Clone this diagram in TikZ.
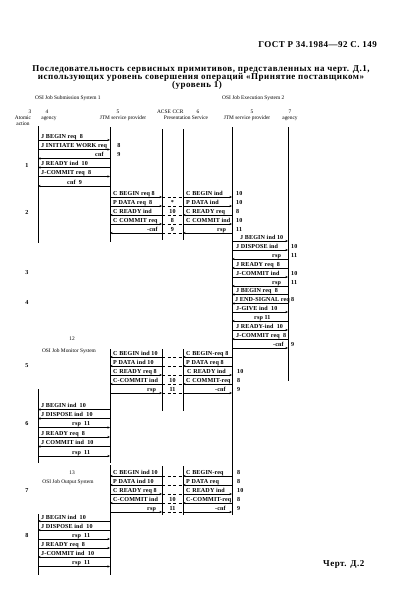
\documentclass[tikz,border=0pt]{standalone}
\usepackage{fontspec}
\setmainfont{Liberation Serif}
\usetikzlibrary{arrows.meta}
\begin{document}
\begin{tikzpicture}[x=1pt,y=-1pt,
    >={Stealth[length=2.6pt,width=2.2pt]},
    life/.style={line width=0.7pt},
    msg/.style={line width=0.65pt},
    fw/.style={->}, bw/.style={<-},
    ccrgap/.style={dash pattern=on 3pt off 2.5pt, line width=0.55pt},
    lbl/.style={font=\fontsize{6.1}{6.5}\selectfont\bfseries\addfontfeature{LetterSpace=2}, inner sep=0pt, anchor=base west},
    nr/.style={font=\fontsize{6.1}{6.5}\selectfont\bfseries, inner sep=0pt, anchor=base},
    hd/.style={font=\fontsize{5.4}{6}\selectfont, inner sep=0pt, anchor=base},
    ttl/.style={font=\fontsize{9}{10}\selectfont\bfseries\addfontfeature{LetterSpace=5.5}, inner sep=0pt, anchor=base}]

    \useasboundingbox[fill=white] (0,0) rectangle (404,610);

    % Page heading and title
    \node[ttl, anchor=base east] (gost) at (377,48) {ГОСТ Р 34.1984—92 С. 149};
    \node[ttl] (title1) at (201,71) {Последовательность сервисных примитивов, представленных на черт. Д.1,};
    \node[ttl] (title2) at (201,79) {использующих уровень совершения операций «Принятие поставщиком»};
    \node[ttl] (title3) at (197,87) {(уровень 1)};
    \node[ttl, anchor=base west] (fig) at (323,566) {Черт. Д.2};

    % Systems
    \node[hd, anchor=base west] (sysA) at (35,99) {OSI Job Submission System 1};
    \node[hd, anchor=base west] (sysB) at (222,99) {OSI Job Execution System 2};

    % Column heads
    \node[hd] (h3) at (30,113.5) {3};
    \node[hd] (h4) at (47,113.5) {4};
    \node[hd] (h5) at (118,113.5) {5};
    \node[hd] (hacse) at (164,113.5) {ACSE};
    \node[hd] (hccr) at (178,113.5) {CCR};
    \node[hd] (h6) at (198,113.5) {6};
    \node[hd] (h5b) at (252,113.5) {5};
    \node[hd] (h7) at (290,113.5) {7};
    \node[hd] (hatom) at (23,119) {Atomic};
    \node[hd] (hact) at (23,125) {action};
    \node[hd] (hag) at (49,119) {agency};
    \node[hd] (hjtm) at (123,119) {JTM service provider};
    \node[hd] (hpres) at (186,119) {Presentation Service};
    \node[hd] (hjtmb) at (247,119) {JTM service provider};
    \node[hd] (hagb) at (290,119) {agency};

    % Lifeline columns
    \coordinate (agS) at (38,0);
    \coordinate (jtmS) at (110,0);
    \coordinate (prA) at (162,0);
    \coordinate (prB) at (183,0);
    \coordinate (jtmE) at (232,0);
    \coordinate (agE) at (288,0);

    \foreach \c/\a/\b in {agS/126/243, jtmS/127/242, prA/129/240, prB/129/240,
        jtmE/127/515, agE/127/381,
        jtmS/349/463, prA/349/411, prB/349/411, agS/389/463,
        jtmS/465/575, prA/466/515, prB/466/515, agS/514/575}
        \draw[life] (\c |- 0,\a) -- (\c |- 0,\b);

    % Atomic actions
    \foreach \n/\y in {1/167,2/214,3/274,4/304,5/367,6/425,7/492,8/537}
        \node[nr] (act\n) at (27,\y) {\n};

    % Submission agency <-> JTM
    \foreach \y/\d/\x/\t [count=\i] in {
        140/fw/41/J BEGIN req\ \ 8,
        149.5/fw/41/J INITIATE WORK req,
        158.5/bw/95/cnf,
        167.5/bw/41/J READY ind\ \ 10,
        176.5/fw/41/J-COMMIT req\ \ 8,
        186/bw/67/cnf\ \ 9}
    {
        \draw[msg,\d] (agS |- 0,\y) -- (jtmS |- 0,\y);
        \node[lbl] (sub\i) at (\x,\y-2) {\t};
    }
    \node[nr] (subn2) at (119,147.5) {8};
    \node[nr] (subn3) at (119,156.5) {9};

    % JTM <-> presentation <-> JTM
    \foreach \y/\dl/\xl/\tl/\dr/\xr/\tr/\m/\n [count=\i] in {
        197/fw/113/C BEGIN req 8/fw/186/C BEGIN ind//10,
        206/fw/113/P DATA req\ \ 8/fw/186/P DATA ind/*/10,
        215/bw/113/C READY ind/bw/186/C READY req/10/8,
        224/fw/113/C COMMIT req/fw/186/C COMMIT ind/8/10,
        233/bw/147/-cnf/bw/217/rsp/9/11}
    {
        \draw[msg,\dl] (jtmS |- 0,\y) -- (prA |- 0,\y);
        \draw[ccrgap] (prA |- 0,\y) -- (prB |- 0,\y);
        \draw[msg,\dr] (prB |- 0,\y) -- (jtmE |- 0,\y);
        \node[lbl] (exl\i) at (\xl,\y-2) {\tl};
        \node[lbl] (exr\i) at (\xr,\y-2) {\tr};
        \node[nr] (exm\i) at (172.5,\y-2) {\m};
        \node[lbl] (exn\i) at (236,\y-2) {\n};
    }

    % Execution JTM <-> agency
    \foreach \y/\d/\x/\t/\n [count=\i] in {
        241/fw/240/J BEGIN ind 10/,
        250/fw/236/J DISPOSE ind/10,
        259/bw/272/rsp/11,
        268/bw/236/J READY req\ \ 8/,
        277/fw/236/J-COMMIT ind/10,
        286/bw/272/rsp/11,
        294.5/bw/236/J BEGIN req\ \ 8/,
        303.5/bw/235/J END-SIGNAL req/8,
        312/fw/236/J-GIVE ind\ \ 10/,
        321/bw/254/rsp 11/,
        330/fw/236/J READY-ind\ \ 10/,
        339/bw/236/J-COMMIT req\ \ 8/,
        348/fw/273/-cnf/9}
    {
        \draw[msg,\d] (jtmE |- 0,\y) -- (agE |- 0,\y);
        \node[lbl] (exa\i) at (\x,\y-2) {\t};
        \node[lbl] (exan\i) at (291,\y-2) {\n};
    }

    % Job Monitor System
    \node[hd] (mon12) at (72,340) {12};
    \node[hd] (monsys) at (69,352) {OSI Job Monitor System};
    \foreach \y/\dl/\xl/\tl/\dr/\xr/\tr/\m/\n [count=\i] in {
        357/bw/113/C BEGIN ind 10/bw/186/C BEGIN-req 8//,
        366/bw/113/P DATA ind 10/bw/186/P DATA req 8//,
        375/fw/113/C READY req 8/fw/187/C READY ind//10,
        384/bw/113/C-COMMIT ind/bw/186/C COMMIT-req/10/8,
        393/fw/147/rsp/fw/215/-cnf/11/9}
    {
        \draw[msg,\dl] (jtmS |- 0,\y) -- (prA |- 0,\y);
        \draw[ccrgap] (prA |- 0,\y) -- (prB |- 0,\y);
        \draw[msg,\dr] (prB |- 0,\y) -- (jtmE |- 0,\y);
        \node[lbl] (mol\i) at (\xl,\y-2) {\tl};
        \node[lbl] (mor\i) at (\xr,\y-2) {\tr};
        \node[nr] (mom\i) at (172.5,\y-2) {\m};
        \node[lbl] (mon\i) at (237,\y-2) {\n};
    }
    \foreach \y/\d/\x/\t [count=\i] in {
        409.5/bw/41/J BEGIN ind\ \ 10,
        418.5/bw/41/J DISPOSE ind\ \ 10,
        427.5/fw/72/rsp\ \ 11,
        437/fw/41/J READY req\ \ 8,
        446.5/bw/41/J COMMIT ind\ \ 10,
        456/fw/72/rsp\ \ 11}
    {
        \draw[msg,\d] (agS |- 0,\y) -- (jtmS |- 0,\y);
        \node[lbl] (moa\i) at (\x,\y-2) {\t};
    }

    % Job Output System
    \node[hd] (out13) at (72,474) {13};
    \node[hd] (outsys) at (68,483) {OSI Job Output System};
    \foreach \y/\dl/\xl/\tl/\dr/\xr/\tr/\m/\n [count=\i] in {
        476/bw/113/C BEGIN ind 10/bw/186/C BEGIN-req//8,
        485/bw/113/P DATA ind 10/bw/186/P DATA req//8,
        494/fw/113/C READY req 8/fw/186/C READY ind//10,
        503/bw/113/C-COMMIT ind/bw/186/C-COMMIT-req/10/8,
        512/fw/147/rsp/fw/215/-cnf/11/9}
    {
        \draw[msg,\dl] (jtmS |- 0,\y) -- (prA |- 0,\y);
        \draw[ccrgap] (prA |- 0,\y) -- (prB |- 0,\y);
        \draw[msg,\dr] (prB |- 0,\y) -- (jtmE |- 0,\y);
        \node[lbl] (oul\i) at (\xl,\y-2) {\tl};
        \node[lbl] (our\i) at (\xr,\y-2) {\tr};
        \node[nr] (oum\i) at (172.5,\y-2) {\m};
        \node[lbl] (oun\i) at (237,\y-2) {\n};
    }
    \foreach \y/\d/\x/\t [count=\i] in {
        521/bw/41/J BEGIN ind\ \ 10,
        530/bw/41/J DISPOSE ind\ \ 10,
        539/fw/72/rsp\ \ 11,
        548/fw/41/J READY req\ \ 8,
        557/bw/41/J-COMMIT ind\ \ 10,
        566.5/fw/72/rsp\ \ 11}
    {
        \draw[msg,\d] (agS |- 0,\y) -- (jtmS |- 0,\y);
        \node[lbl] (oua\i) at (\x,\y-2) {\t};
    }
\end{tikzpicture}
\end{document}
